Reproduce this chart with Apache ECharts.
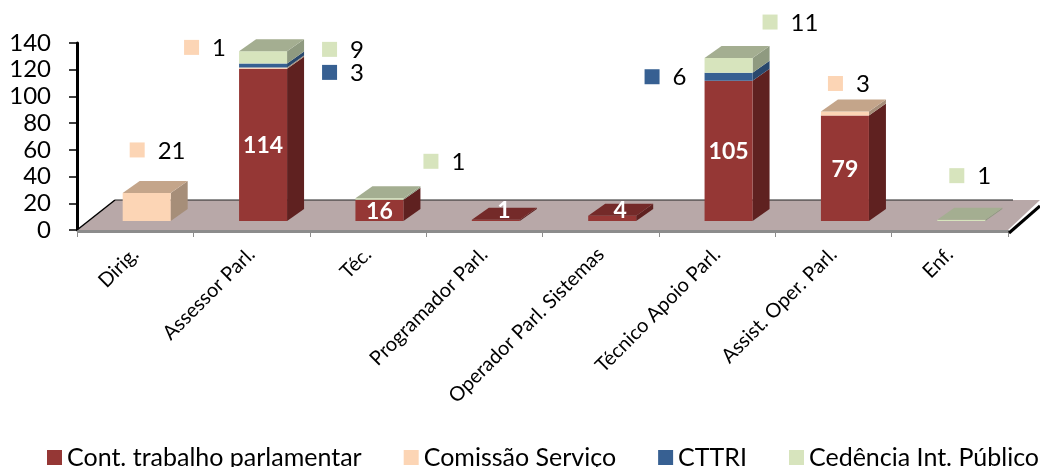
<!DOCTYPE html>
<html>
<head>
<meta charset="utf-8">
<style>
  html, body { margin: 0; padding: 0; background: #fff; }
  #chart { width: 1040px; height: 467px; }
</style>
<script src="https://cdn.jsdelivr.net/npm/echarts@6/dist/echarts.min.js"></script>
</head>
<body>
<div id="chart"></div>
<script>
var categories = ['Dirig.', 'Assessor Parl.', 'Téc.', 'Programador Parl.', 'Operador Parl. Sistemas', 'Técnico Apoio Parl.', 'Assist. Oper. Parl.', 'Enf.']
var contTrabalho = [0, 114, 16, 1, 4, 105, 79, 0]
var comissao = [21, 1, 0, 0, 0, 0, 3, 0]
var cttri = [0, 3, 0, 0, 0, 6, 0, 0]
var cedencia = [0, 9, 1, 0, 0, 11, 0, 1]
var yTicks = { min: 0, max: 140, interval: 20 }

var FONT = 'Lato, "Open Sans", sans-serif'
// bars stand on the floor, a bit behind the axis line
var SHIFT_X = 11.5
var SHIFT_Y = 9
var BAR_W = 48
var DEPTH_X = 17
var DEPTH_Y = 12

// moved labels: [left of the swatch from bar centre, swatch middle from segment top]
var comissaoLabels = { 0: [-17, -43], 1: [-79, -20], 6: [-17, -28] }
var cttriLabels = { 1: [59, 9], 5: [-84, 4] }
var cedenciaLabels = { 1: [59, -2], 2: [44, -37], 5: [34, -36], 7: [-12, -44] }

var stacks = [
  { name: 'Cont. trabalho parlamentar', values: contTrabalho, front: '#953735', side: '#5f2120', top: '#742a29', inside: true },
  { name: 'Comissão Serviço', values: comissao, front: '#fcd5b5', side: '#a68e79', top: '#c4a58a', moved: comissaoLabels },
  { name: 'CTTRI', values: cttri, front: '#376092', side: '#29486d', top: '#2f5078', moved: cttriLabels },
  { name: 'Cedência Int. Público', values: cedencia, front: '#d7e4bd', side: '#8f9a80', top: '#a4ae91', moved: cedenciaLabels }
]

function below(stackIndex, cat) {
  var sum = 0
  for (var i = 0; i < stackIndex; i++) {
    sum += stacks[i].values[cat]
  }
  return sum
}

function isTop(stackIndex, cat) {
  for (var i = stackIndex + 1; i < stacks.length; i++) {
    if (stacks[i].values[cat] > 0) return false
  }
  return true
}

function poly(points, color) {
  return { type: 'polygon', shape: { points: points }, style: { fill: color } }
}

function makeBarSeries(s, stackIndex) {
  return {
    name: s.name,
    type: 'custom',
    z: 3 + stackIndex,
    itemStyle: { color: s.front },
    data: s.values.map(function(v, i) { return [i, v] }),
    encode: { x: 0, y: 1 },
    renderItem: function(params, api) {
      var cat = api.value(0)
      var val = api.value(1)
      if (!val) return { type: 'group', children: [] }
      var base = below(stackIndex, cat)
      var c0 = api.coord([cat, base])
      var c1 = api.coord([cat, base + val])
      var mid = c0[0] + SHIFT_X
      var l = mid - BAR_W / 2
      var r = mid + BAR_W / 2
      var yb = c0[1] - SHIFT_Y
      var yt = c1[1] - SHIFT_Y
      var children = [
        poly([[r, yb], [r + DEPTH_X, yb - DEPTH_Y], [r + DEPTH_X, yt - DEPTH_Y], [r, yt]], s.side),
        { type: 'rect', shape: { x: l, y: yt, width: BAR_W, height: yb - yt }, style: { fill: s.front } }
      ]
      if (isTop(stackIndex, cat)) {
        children.push(poly([[l, yt], [r, yt], [r + DEPTH_X, yt - DEPTH_Y], [l + DEPTH_X, yt - DEPTH_Y]], s.top))
      }
      if (s.inside) {
        var thin = val < 10
        children.push({
          type: 'text',
          z2: 10,
          style: {
            x: thin ? mid + 8 : mid,
            y: thin ? api.coord([cat, 8])[1] - SHIFT_Y : (yb + yt) / 2 + 1,
            text: String(val),
            fill: '#fff',
            font: 'bold 23px ' + FONT,
            align: 'center',
            verticalAlign: 'middle'
          }
        })
      }
      var moved = s.moved && s.moved[cat]
      if (moved) {
        var sx = mid + moved[0]
        var sy = yt + moved[1]
        children.push({ type: 'rect', shape: { x: sx, y: sy - 7.5, width: 15, height: 15 }, style: { fill: s.front } })
        children.push({
          type: 'text',
          style: { x: sx + 28, y: sy + 1, text: String(val), fill: '#000', font: '24px ' + FONT, align: 'left', verticalAlign: 'middle' }
        })
      }
      return { type: 'group', children: children }
    }
  }
}

var floorSeries = {
  type: 'custom',
  z: 1,
  silent: true,
  data: [[0, 0]],
  encode: { x: 0, y: 1 },
  renderItem: function(params, api) {
    var g = params.coordSys
    var x0 = g.x
    var x1 = g.x + g.width
    var y0 = api.coord([0, 0])[1]
    var backY = y0 - 30
    return {
      type: 'group',
      children: [
        poly([[x0, y0], [x1, y0], [x1 + 32, backY], [x0 + 38, backY]], '#b8a8a8'),
        poly([[x0, y0], [x1, y0], [x1, y0 + 3], [x0, y0 + 3]], '#8c8c8c'),
        { type: 'line', shape: { x1: x0, y1: y0, x2: x0 + 38, y2: backY }, style: { stroke: '#000', lineWidth: 1.5 } },
        { type: 'line', shape: { x1: x0 + 38, y1: backY, x2: x1 + 5, y2: backY }, style: { stroke: '#222', lineWidth: 1 } },
        { type: 'line', shape: { x1: x1 + 1, y1: y0 + 3, x2: x1 + 32, y2: backY + 6 }, style: { stroke: '#000', lineWidth: 3 } }
      ]
    }
  }
}

var chart = echarts.init(document.getElementById('chart'), null, { renderer: 'canvas' })
chart.setOption({
  animation: false,
  backgroundColor: '#fff',
  grid: { left: 77, right: 32, top: 43, bottom: 237 },
  legend: {
    left: 47,
    top: 445,
    icon: 'rect',
    itemWidth: 15,
    itemHeight: 15,
    itemGap: 42,
    selectedMode: false,
    padding: 0,
    textStyle: { fontFamily: FONT, fontSize: 25, color: '#000', padding: [0, 0, 0, 0] },
    data: stacks.map(function(s) { return s.name })
  },
  xAxis: {
    type: 'category',
    data: categories,
    axisLine: { show: false },
    axisTick: { show: true, length: 7, lineStyle: { color: '#8c8c8c', width: 1 } },
    axisLabel: {
      interval: 0,
      rotate: 45,
      margin: 21,
      fontFamily: FONT,
      fontSize: 20,
      color: '#000'
    },
    splitLine: { show: false }
  },
  yAxis: {
    type: 'value',
    min: yTicks.min,
    max: yTicks.max,
    interval: yTicks.interval,
    axisLine: { show: true, lineStyle: { color: '#000', width: 3 } },
    axisTick: { show: true, length: 8, lineStyle: { color: '#000', width: 1.5 } },
    axisLabel: { margin: 26, fontFamily: FONT, fontSize: 24, color: '#000' },
    splitLine: { show: false }
  },
  series: [floorSeries].concat(stacks.map(makeBarSeries))
})
</script>
</body>
</html>
